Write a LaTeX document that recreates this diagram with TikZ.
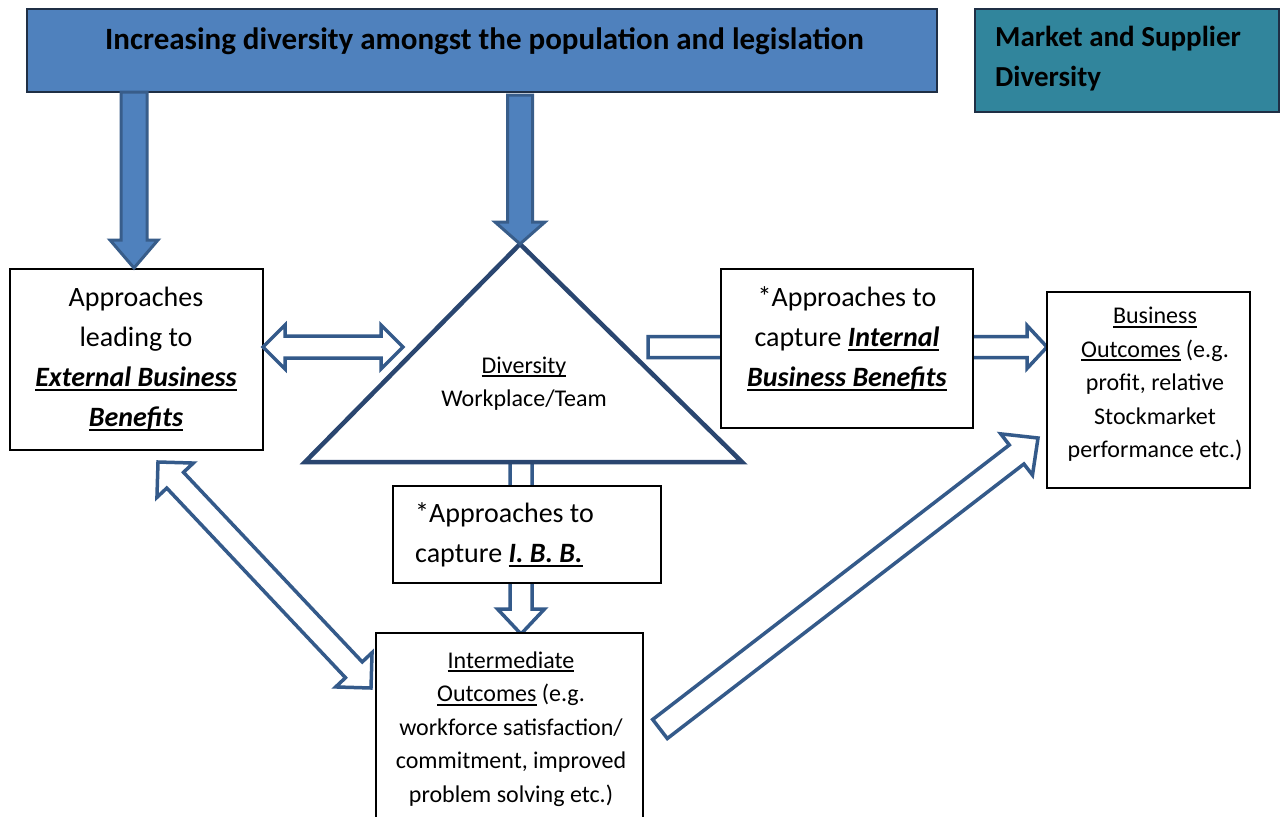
\documentclass[tikz,border=0pt]{standalone}
\usepackage{fontspec}
\setmainfont{Carlito}
\usetikzlibrary{calc}

\definecolor{topblue}{HTML}{4F81BD}
\definecolor{arrowborder}{HTML}{385D8A}
\definecolor{topborder}{HTML}{1F2F45}
\definecolor{tealbox}{HTML}{31859C}
\definecolor{hollow}{HTML}{345A8A}
\definecolor{trinavy}{HTML}{2A4670}

\newcommand\myul[1]{\leavevmode\setbox0=\hbox{#1}\rlap{\rule[-0.16em]{\wd0}{0.07em}}\box0\relax}

% single block arrow: style, from, to, shaft half width, head half width, head length
\newcommand\blockarrow[6]{%
  \coordinate (ba-h) at ($(#3)!#6!(#2)$);
  \draw[#1] ($(#2)!#4!90:(#3)$) -- ($(ba-h)!#4!90:(#3)$) -- ($(ba-h)!#5!90:(#3)$) -- (#3)
     -- ($(ba-h)!#5!-90:(#3)$) -- ($(ba-h)!#4!-90:(#3)$) -- ($(#2)!#4!-90:(#3)$) -- cycle;
}
% double block arrow
\newcommand\dblockarrow[6]{%
  \coordinate (da-h1) at ($(#2)!#6!(#3)$);
  \coordinate (da-h2) at ($(#3)!#6!(#2)$);
  \draw[#1] (#2) -- ($(da-h1)!#5!90:(#3)$) -- ($(da-h1)!#4!90:(#3)$) -- ($(da-h2)!#4!90:(#3)$)
     -- ($(da-h2)!#5!90:(#3)$) -- (#3) -- ($(da-h2)!#5!-90:(#3)$) -- ($(da-h2)!#4!-90:(#3)$)
     -- ($(da-h1)!#4!-90:(#3)$) -- ($(da-h1)!#5!-90:(#3)$) -- cycle;
}

\tikzset{
  wbox/.style={draw=black, line width=1.5pt, fill=white, inner sep=0pt},
  bluearrow/.style={fill=topblue, draw=arrowborder, line width=3pt, line join=miter},
  hollowarrow/.style={fill=white, draw=hollow, line width=3.5pt, line join=miter},
  bigtext/.style={font=\fontsize{28}{40}\selectfont, align=center, inner sep=0pt},
  smalltext/.style={font=\fontsize{24}{33.5}\selectfont, align=center, inner sep=0pt},
}

\begin{document}
\begin{tikzpicture}[x=1pt,y=-1pt]
\useasboundingbox (0,0) rectangle (1281,816);
\clip (0,0) rectangle (1281,816);
\fill[white] (0,0) rectangle (1281,816);

% coordinates for connectors
\coordinate (tA) at (520,244);
\coordinate (tL) at (305,462);
\coordinate (tR) at (742,462);
\coordinate (vS) at (521,462);
\coordinate (vE) at (521,634);

% vertical hollow arrow (triangle -> intermediate)
\blockarrow{hollowarrow}{vS}{vE}{11pt}{23.5pt}{25pt}

% triangle
\draw[trinavy, line width=4.5pt, fill=white, line join=miter] (tA) -- (tR) -- (tL) -- cycle;
\node[font=\fontsize{24}{33}\selectfont, align=center, inner sep=0pt] (div) at (524,383.5)
  {\myul{Diversity}\\Workplace/Team};

% top boxes
\node[draw=topborder, line width=2pt, fill=topblue, minimum width=910pt, minimum height=83pt, inner sep=0pt] (pop) at (482,50.5) {};
\node[font=\fontsize{31}{36}\selectfont\bfseries, anchor=base, inner sep=0pt] at (484.5,50)
  {Increasing diversity amongst the population and legislation};
\node[draw=topborder, line width=2pt, fill=tealbox, minimum width=304pt, minimum height=103pt, inner sep=0pt] (mkt) at (1127,60.5) {};
\node[font=\fontsize{29}{40}\selectfont\bfseries, align=left, anchor=west, inner sep=0pt] at (995,59)
  {Market and Supplier\\Diversity};

% boxes
\node[wbox, minimum width=253pt, minimum height=181pt] (ext) at (136.5,359.5) {};
\node[bigtext] at (136,359)
  {Approaches\\leading to\\\myul{\textbf{\textit{External Business}}}\\\myul{\textbf{\textit{Benefits}}}};

% blue arrows
\coordinate (b1s) at (134,92);
\coordinate (b1e) at (134,268);
\coordinate (b2s) at (520,95);
\blockarrow{bluearrow}{b1s}{b1e}{13pt}{24pt}{28pt}
\blockarrow{bluearrow}{b2s}{tA}{12.5pt}{25pt}{22pt}

% hollow arrows
\coordinate (hS) at (263,347);
\coordinate (hE) at (403,347);
\dblockarrow{hollowarrow}{hS}{hE}{11pt}{22pt}{22pt}

\coordinate (rS) at (648,347);
\coordinate (rE) at (1047,347);
\blockarrow{hollowarrow}{rS}{rE}{10.5pt}{21.5pt}{20pt}

\coordinate (dS) at (158,462);
\coordinate (dE) at (371,688);
\dblockarrow{hollowarrow}{dS}{dE}{11.5pt}{25pt}{25pt}

\coordinate (gS) at (660,729);
\coordinate (gE) at (1038,438);
\blockarrow{hollowarrow}{gS}{gE}{12pt}{26pt}{27pt}

% internal benefits box
\node[wbox, minimum width=252pt, minimum height=159pt] (int) at (847,348.5) {};
\node[bigtext] at (847,339)
  {*Approaches to\\capture \myul{\textbf{\textit{Internal}}}\\\myul{\textbf{\textit{Business Benefits}}}};

% business outcomes
\node[wbox, minimum width=203pt, minimum height=196pt] (bus) at (1148.5,390) {};
\node[smalltext] at (1155,384.5)
  {\myul{Business}\\\myul{Outcomes} (e.g.\\profit, relative\\Stockmarket\\performance etc.)};

% IBB small box
\node[wbox, minimum width=268pt, minimum height=97pt] (ibb) at (527,534.5) {};
\node[bigtext, align=left, anchor=west] at (415,534.5)
  {*Approaches to\\capture \myul{\textbf{\textit{I. B. B.}}}};

% intermediate outcomes
\node[wbox, minimum width=267pt, minimum height=207pt] (inter) at (509.5,736.5) {};
\node[smalltext] at (511,729)
  {\myul{Intermediate}\\\myul{Outcomes} (e.g.\\workforce satisfaction/\\commitment, improved\\problem solving etc.)};
\end{tikzpicture}
\end{document}
